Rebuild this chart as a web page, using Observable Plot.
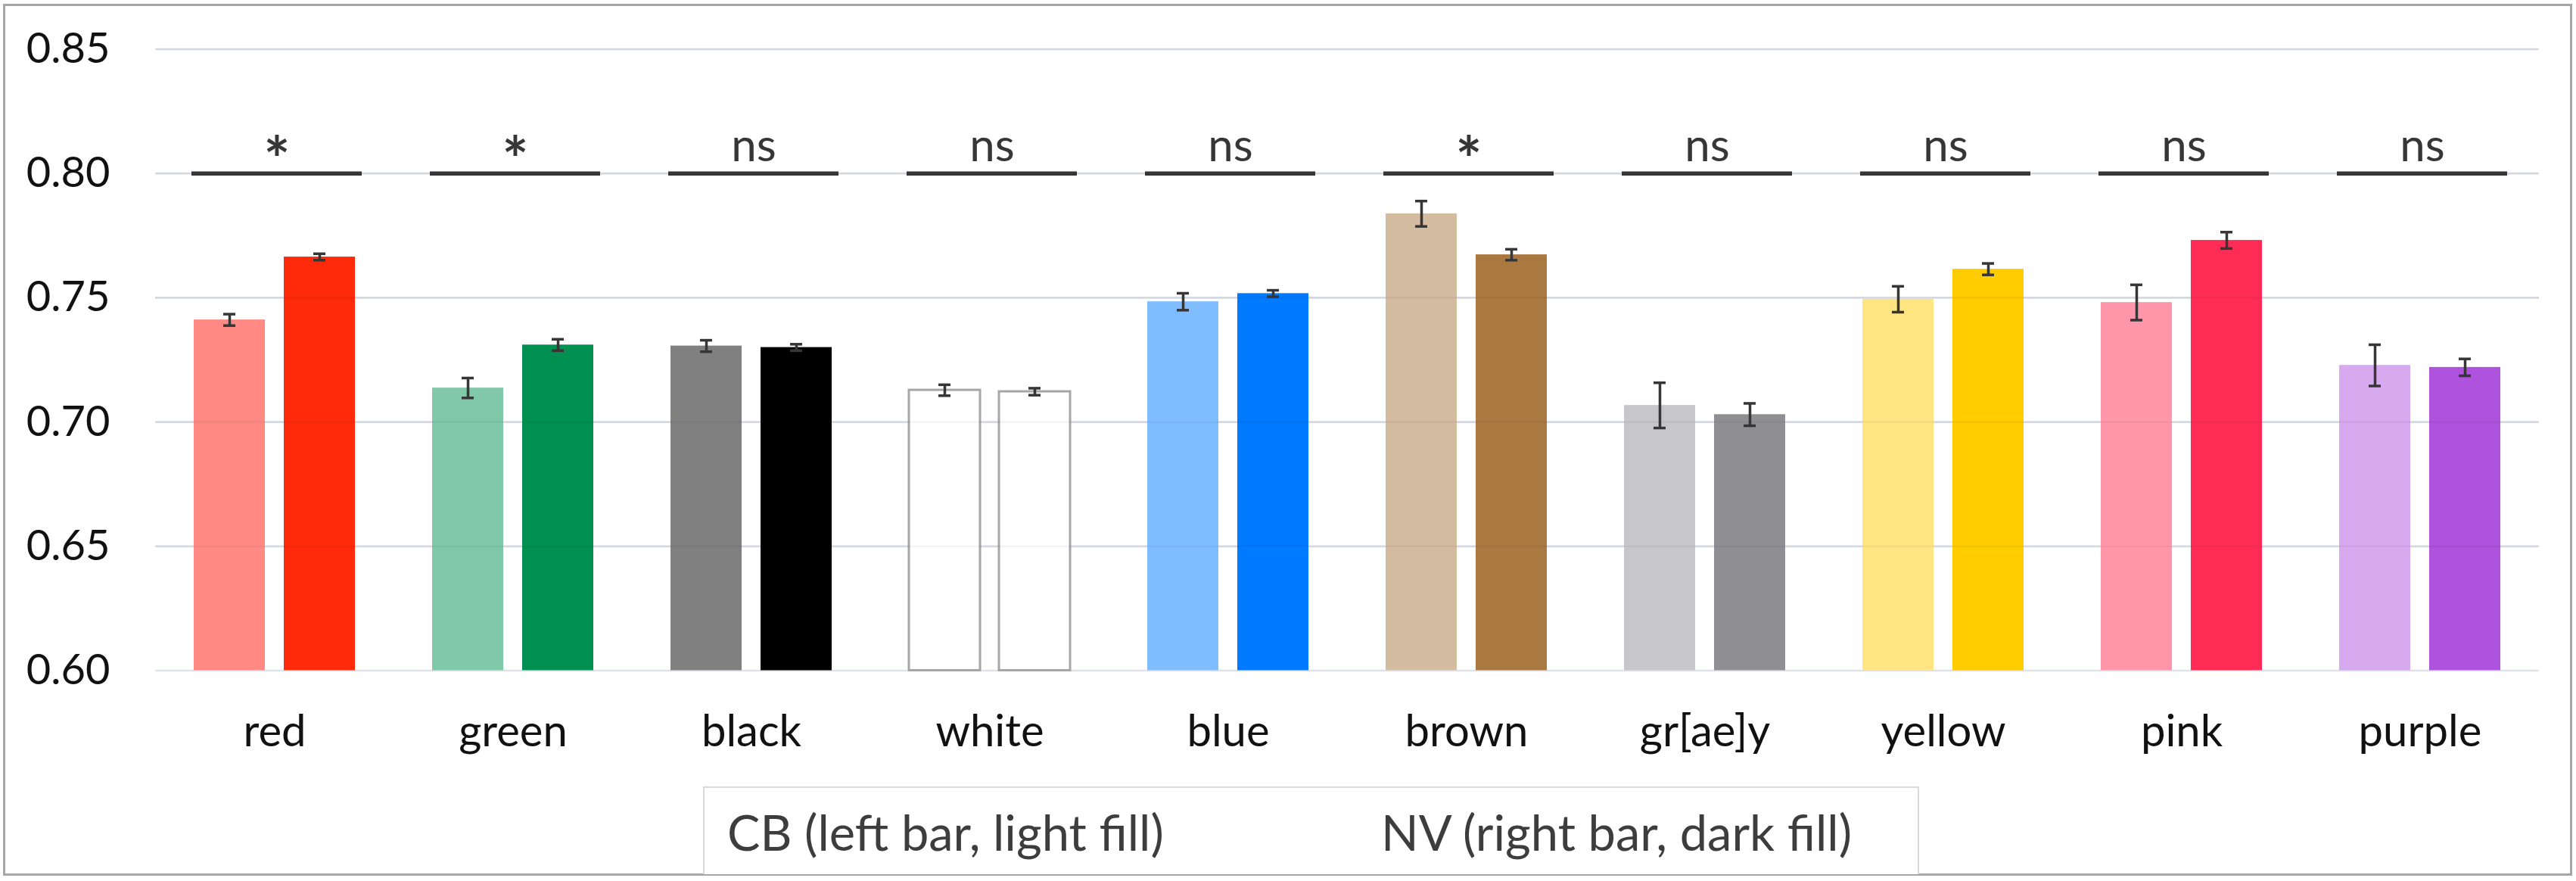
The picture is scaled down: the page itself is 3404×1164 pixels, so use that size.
<!DOCTYPE html>
<html>
<head>
<meta charset="utf-8">
<script src="https://cdn.jsdelivr.net/npm/d3@7"></script>
<script src="https://cdn.jsdelivr.net/npm/@observablehq/plot@0.6"></script>
<style>
  html, body { margin: 0; padding: 0; background: #fff; }
  #wrap { position: relative; width: 3404px; height: 1164px; overflow: hidden; font-family: Lato, "Open Sans", sans-serif; }
  #chart { position: absolute; left: 0; top: 0; }
  #frame { position: absolute; left: 4px; top: 5px; width: 3395px; height: 1152px; box-sizing: border-box; border: 3px solid #a6a6a6; pointer-events: none; }
  #legend { position: absolute; left: 929px; top: 1039px; width: 1607px; height: 116px; box-sizing: border-box; border: 2px solid #d9d9d9; border-bottom: none; background: #fff; }
  #legend span { position: absolute; top: 26px; font-size: 65px; line-height: 1; color: #3d3d3d; white-space: nowrap; }
</style>
</head>
<body>
<div id="wrap">
  <div id="chart"></div>
  <div id="frame"></div>
  <div id="legend"><span id="lgCB"></span><span id="lgNV"></span></div>
</div>
<script>
// ---- data ----
const categories = ["red", "green", "black", "white", "blue", "brown", "gr[ae]y", "yellow", "pink", "purple"];
const cbValues = [0.7411, 0.7137, 0.7306, 0.7128, 0.7484, 0.7838, 0.7067, 0.7494, 0.7481, 0.7228];
const cbErrors = [0.0023, 0.0040, 0.0023, 0.0022, 0.0034, 0.0051, 0.0091, 0.0052, 0.0071, 0.0083];
const nvValues = [0.7664, 0.7310, 0.7300, 0.7122, 0.7517, 0.7673, 0.7030, 0.7615, 0.7731, 0.7220];
const nvErrors = [0.0013, 0.0023, 0.0013, 0.0014, 0.0013, 0.0022, 0.0045, 0.0023, 0.0033, 0.0034];
const significance = ["*", "*", "ns", "ns", "ns", "*", "ns", "ns", "ns", "ns"];
const sigLevel = 0.80;
const baseColors = ["#ff2a0a", "#009051", "#000000", "#ffffff", "#007aff", "#aa7942", "#8e8e93", "#ffcc00", "#ff2d55", "#af52de"];
const lightColors = ["#ff8a84", "#81c8a9", "#808080", "#ffffff", "#80bdff", "#d4bca0", "#c7c7c9", "#fee581", "#ff96aa", "#d7a9ee"];
const seriesNames = ["CB", "NV"];
const legendLabels = ["CB (left bar, light fill)", "NV (right bar, dark fill)"];
const yDomain = [0.60, 0.85];
const yTicks = [0.60, 0.65, 0.70, 0.75, 0.80, 0.85];

// ---- table built from the arrays ----
const rows = [];
categories.forEach((c, i) => {
  rows.push({cat: c, series: "CB", value: cbValues[i], err: cbErrors[i], color: lightColors[i]});
  rows.push({cat: c, series: "NV", value: nvValues[i], err: nvErrors[i], color: baseColors[i]});
});
const sigRows = categories.map((c, i) => ({cat: c, label: significance[i], y: sigLevel}));

const ink = "#363636";

const chart = Plot.plot({
  width: 3404,
  height: 1010,
  marginLeft: 204,
  marginRight: 49,
  marginTop: 64.5,
  marginBottom: 124.5,
  style: {background: "transparent", fontFamily: "Lato, 'Open Sans', sans-serif", color: "#111"},
  fx: {domain: categories, padding: 0, label: null},
  x: {domain: seriesNames, paddingInner: 0.2083, paddingOuter: 0.4167, axis: null},
  y: {domain: yDomain, axis: null},
  marks: [
    Plot.gridY(yTicks, {stroke: "#dfe2e8", strokeOpacity: 1, strokeWidth: 2.7}),
    Plot.barY(rows, {
      fx: "cat", x: "series", y1: yDomain[0], y2: "value",
      fill: "color",
      stroke: d => d.cat === "white" ? "#a6a6a6" : "none", strokeWidth: 3
    }),
    // gridlines faintly visible through the light (CB) bars
    Plot.gridY(yTicks.slice(1), {fx: null, stroke: "#000", strokeOpacity: 0.045, strokeWidth: 2.7}),
    Plot.ruleX(rows, {fx: "cat", x: "series", y1: d => d.value - d.err, y2: d => d.value + d.err, stroke: ink, strokeWidth: 3.5}),
    Plot.tickY(rows, {fx: "cat", x: "series", y: d => d.value - d.err, stroke: ink, strokeWidth: 3.5, inset: 39}),
    Plot.tickY(rows, {fx: "cat", x: "series", y: d => d.value + d.err, stroke: ink, strokeWidth: 3.5, inset: 39}),
    Plot.ruleY(sigRows, {fx: "cat", y: "y", insetLeft: 48, insetRight: 42, stroke: ink, strokeWidth: 5.5}),
    Plot.text(sigRows.filter(d => d.label !== "*"), {fx: "cat", y: "y", text: "label", dx: 3, dy: -16, lineAnchor: "bottom", fontSize: 60, fill: ink}),
    Plot.text(sigRows.filter(d => d.label === "*"), {fx: "cat", y: "y", text: "label", dx: 3, dy: 12, lineAnchor: "bottom", fontSize: 82, fontWeight: "bold", fill: ink}),
    Plot.axisY({ticks: yTicks, tickFormat: d3.format(".2f"), tickSize: 0, tickPadding: 60, fontSize: 56, label: null}),
    Plot.axisFx({anchor: "bottom", tickSize: 0, tickPadding: 59, fontSize: 58, label: null})
  ]
});
document.getElementById("chart").appendChild(chart);

const cb = document.getElementById("lgCB");
cb.textContent = legendLabels[0];
cb.style.left = "30px";
const nv = document.getElementById("lgNV");
nv.textContent = legendLabels[1];
nv.style.left = "894px";
</script>
</body>
</html>
